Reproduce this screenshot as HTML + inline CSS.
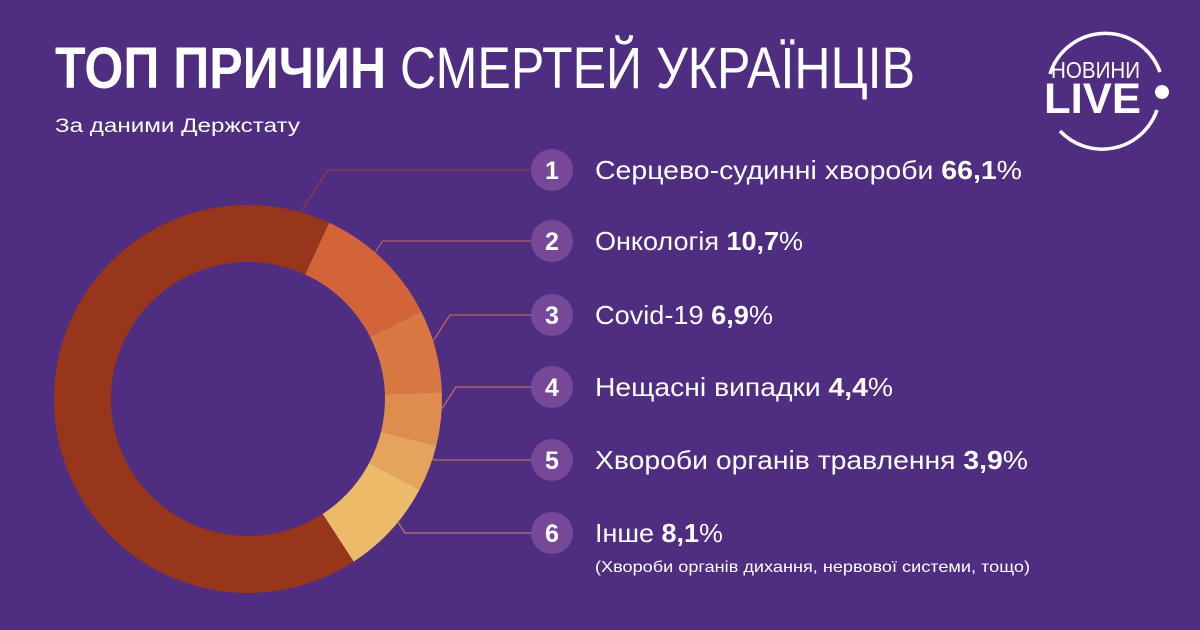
<!DOCTYPE html>
<html><head><meta charset="utf-8"><style>
html,body{margin:0;padding:0;background:#4f2d80;}
svg{display:block;font-family:"Liberation Sans",sans-serif;}
</style></head><body>
<svg id="c" width="1200" height="630" viewBox="0 0 1200 630">
<rect width="1200" height="630" fill="#4f2d80"/>
<text x="55" y="88" font-size="58" fill="#fff" textLength="860" lengthAdjust="spacingAndGlyphs"><tspan font-weight="bold">ТОП ПРИЧИН</tspan> СМЕРТЕЙ УКРАЇНЦІВ</text>
<text x="55" y="132" font-size="19" fill="#fff" textLength="245" lengthAdjust="spacingAndGlyphs">За даними Держстату</text>
<g>
<path d="M1050 74 A58 58 0 0 1 1160 72" fill="none" stroke="#fff" stroke-width="3.5"/>
<path d="M1157 110 A58 58 0 0 1 1060 131" fill="none" stroke="#fff" stroke-width="3.5"/>
<circle cx="1162" cy="92" r="7" fill="#fff"/>
<text x="1051" y="78" font-size="23" fill="#fff" textLength="89" lengthAdjust="spacingAndGlyphs">НОВИНИ</text>
<text x="1044" y="113" font-size="43" font-weight="bold" fill="#fff" textLength="97" lengthAdjust="spacingAndGlyphs">LIVE</text>
</g>
<g id="donut"></g>
<g id="legend"></g>
</svg>
<script>
const categories = ["Серцево-судинні хвороби","Онкологія","Covid-19","Нещасні випадки","Хвороби органів травлення","Інше "];
const values = [66.1,10.7,6.9,4.4,3.9,8.1];
const valueLabels = ["66,1","10,7","6,9","4,4","3,9","8,1"];
const colors = ["#97361a","#d3643a","#d87944","#df8d4f","#e4a45c","#ebbb69"];
const NS="http://www.w3.org/2000/svg";
const cx=248, cy=399, R=194, r=137;
const total=values.reduce((a,b)=>a+b,0);
const startAngle = 24.7 - values[0]/total*360;
function angleOf(v){return v/total*360;}
function pt(a,rad){const t=(a-90)*Math.PI/180;return [cx+rad*Math.cos(t),cy+rad*Math.sin(t)];}
const donut=document.getElementById('donut');
const legend=document.getElementById('legend');
let acc=startAngle;
const rowY=[170,241,315,387,460,533];
const labelW=[427,208,178,298,433,128];
const lineCols=["#8e3b3e","#b0605a","#b8685c","#ba6e62","#b87064","#b97864"];
values.forEach((v,i)=>{
  const a0=acc, a1=acc+angleOf(v); acc=a1;
  const [x0,y0]=pt(a0,R),[x1,y1]=pt(a1,R),[x2,y2]=pt(a1,r),[x3,y3]=pt(a0,r);
  const large=(a1-a0)>180?1:0;
  const p=document.createElementNS(NS,'path');
  p.setAttribute('d',`M${x0},${y0}A${R},${R} 0 ${large} 1 ${x1},${y1}L${x2},${y2}A${r},${r} 0 ${large} 0 ${x3},${y3}Z`);
  p.setAttribute('fill',colors[i]);
  
  
  donut.appendChild(p);
  let am=(a0+a1)/2-3; if(i===0) am=a1-9;
  const [lx,ly]=pt(am,R);
  const ey=rowY[i];
  const ex=lx+Math.abs(ey-ly)*0.65;
  const l=document.createElementNS(NS,'polyline');
  l.setAttribute('points',`${lx},${ly} ${ex},${ey} 535,${ey}`);
  l.setAttribute('fill','none');l.setAttribute('stroke',lineCols[i]);l.setAttribute('stroke-width','1.3');
  
  
  legend.appendChild(l);
  const c=document.createElementNS(NS,'circle');
  c.setAttribute('cx',552);c.setAttribute('cy',ey);c.setAttribute('r',21);c.setAttribute('fill','#774898');
  
  
  legend.appendChild(c);
  const n=document.createElementNS(NS,'text');
  n.setAttribute('x',552);n.setAttribute('y',ey+9);n.setAttribute('text-anchor','middle');
  n.setAttribute('font-size','25');n.setAttribute('font-weight','bold');n.setAttribute('fill','#fff');
  n.textContent=String(i+1);
  
  
  legend.appendChild(n);
  const t=document.createElementNS(NS,'text');
  t.setAttribute('x',595);t.setAttribute('y',ey+9);t.setAttribute('font-size','26');t.setAttribute('fill','#fff');
  t.setAttribute('textLength',labelW[i]);t.setAttribute('lengthAdjust','spacingAndGlyphs');
  t.innerHTML=categories[i]+' <tspan font-weight="bold">'+valueLabels[i]+'</tspan>%';
  
  
  legend.appendChild(t);
});
const note=document.createElementNS(NS,'text');
note.setAttribute('x',595);note.setAttribute('y',572);note.setAttribute('font-size','16');note.setAttribute('fill','#fff');
note.setAttribute('textLength','435');note.setAttribute('lengthAdjust','spacingAndGlyphs');
note.textContent='(Хвороби органів дихання, нервової системи, тощо)';


legend.appendChild(note);
</script>
</body></html>
